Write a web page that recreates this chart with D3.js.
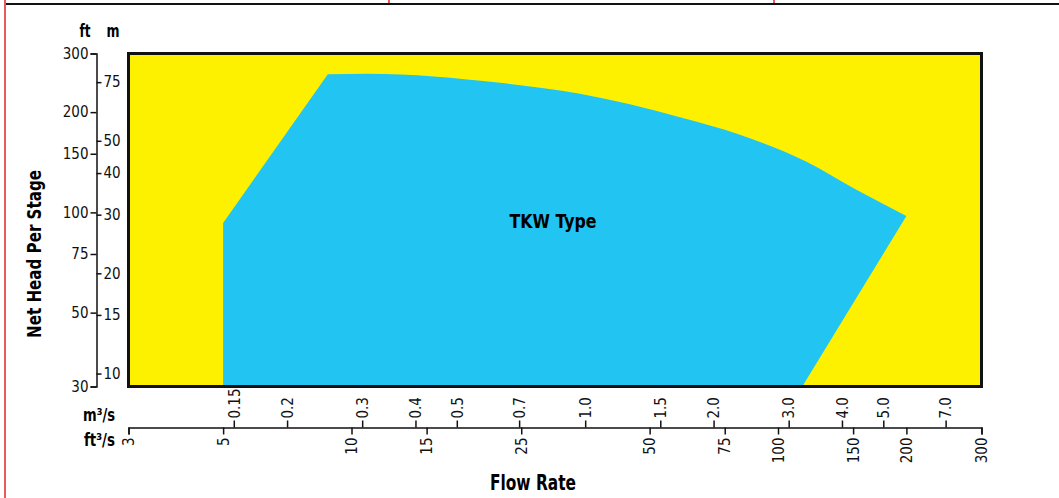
<!DOCTYPE html>
<html>
<head>
<meta charset="utf-8">
<script src="https://cdn.jsdelivr.net/npm/d3@7"></script>
<style>
  body { margin: 0; background: #fff; }
  svg text { font-family: "Liberation Sans Narrow", "DejaVu Sans Condensed", "Arial Narrow", sans-serif; }
</style>
</head>
<body>
<svg id="mainsvg" width="1059" height="498"></svg>
<script>
// tick labels
const headFtTicks = [30, 50, 75, 100, 150, 200, 300];
const headMTicks = [10, 15, 20, 30, 40, 50, 75];
const flowFtTicks = [3, 5, 10, 15, 25, 50, 75, 100, 150, 200, 300];
const flowM3Ticks = [0.15, 0.2, 0.3, 0.4, 0.5, 0.7, 1.0, 1.5, 2.0, 3.0, 4.0, 5.0, 7.0];

// TKW envelope: curved top edge (ft3/s, ft)
const topFlow = [8.8, 10.9, 22.3, 34.3, 58.9, 81.4, 116.6, 152.7, 200];
const topHead = [260, 261, 245, 227, 193, 171, 142, 117, 97.5];
// straight edges closing the envelope, from the right tip back round to the top corner
const edgeFlow = [114, 5, 5];
const edgeHead = [30, 30, 93];

const FT_PER_M = 3.281;
const FT3_PER_M3 = 35.31;

const svg = d3.select('#mainsvg');

const xScale = d3.scaleLog().domain([3, 300]).range([128.5, 981.5]);
const yScale = d3.scaleLog().domain([30, 300]).range([386.5, 53.5]);
const mScale = d3.scaleLog().domain([30 / FT_PER_M, 300 / FT_PER_M]).range(yScale.range());
const m3Scale = d3.scaleLog().domain([3 / FT3_PER_M3, 300 / FT3_PER_M3]).range(xScale.range());

// page frame bits
svg.append('rect').attr('x', 4).attr('y', 0).attr('width', 2).attr('height', 498).attr('fill', '#e65b5b');
svg.append('rect').attr('x', 6).attr('y', 3).attr('width', 1053).attr('height', 2).attr('fill', '#111');
[388, 773].forEach(x => {
  svg.append('rect').attr('x', x).attr('y', 0).attr('width', 2).attr('height', 3).attr('fill', '#e65b5b');
});

// plot background
svg.append('rect')
  .attr('x', xScale(3)).attr('y', yScale(300))
  .attr('width', xScale(300) - xScale(3))
  .attr('height', yScale(30) - yScale(300))
  .attr('fill', '#fdf100');

// envelope
const topPts = topFlow.map((f, i) => [xScale(f), yScale(topHead[i])]);
const curve = d3.line().curve(d3.curveMonotoneX)(topPts);
const tail = edgeFlow.map((f, i) => `L${xScale(f)},${yScale(edgeHead[i])}`).join('');
svg.append('path')
  .attr('d', curve + tail + 'Z')
  .attr('fill', '#22c4f2');

// plot border
svg.append('rect')
  .attr('x', xScale(3)).attr('y', yScale(300))
  .attr('width', xScale(300) - xScale(3))
  .attr('height', yScale(30) - yScale(300))
  .attr('fill', 'none')
  .attr('stroke', '#111')
  .attr('stroke-width', 3);

// bold titles are squeezed to the width of the condensed face in the original
function title(txt, x, y, size, len, anchor) {
  return svg.append('text').text(txt)
    .attr('x', x).attr('y', y)
    .attr('text-anchor', anchor || 'middle')
    .attr('font-size', size).attr('font-weight', 'bold')
    .attr('textLength', len).attr('lengthAdjust', 'spacingAndGlyphs');
}

title('TKW Type', 553, 228, 19, 87);

// y axes (ft left, m right of same line)
const axisX = 96.5;
svg.append('g').attr('transform', `translate(${axisX},0)`)
  .call(d3.axisLeft(yScale).tickValues(headFtTicks).tickFormat(d3.format('d')).tickSize(6).tickPadding(2));
const mAxis = svg.append('g').attr('transform', `translate(${axisX},0)`)
  .call(d3.axisRight(mScale).tickValues(headMTicks).tickFormat(d3.format('d')).tickSize(5).tickPadding(2));
mAxis.select('.domain').remove();

// x axes (ft3/s below, m3/s above the same line)
const axisY = 427.5;
const ftFlowAxis = svg.append('g').attr('transform', `translate(0,${axisY})`)
  .call(d3.axisBottom(xScale).tickValues(flowFtTicks).tickFormat(d3.format('d')).tickSize(7));
ftFlowAxis.selectAll('.tick text')
  .attr('transform', 'rotate(-90)')
  .attr('text-anchor', 'end')
  .attr('x', -10).attr('y', 0).attr('dy', '0.35em');

const m3Axis = svg.append('g').attr('transform', `translate(0,${axisY})`)
  .call(d3.axisTop(m3Scale).tickValues(flowM3Ticks)
    .tickFormat(d => d < 1 ? String(d) : d.toFixed(1)).tickSize(7));
m3Axis.select('.domain').remove();
m3Axis.selectAll('.tick text')
  .attr('transform', 'rotate(-90)')
  .attr('text-anchor', 'start')
  .attr('x', 9).attr('y', 0).attr('dy', '0.35em');

svg.selectAll('.tick text').attr('font-size', 15).attr('fill', '#111');
svg.selectAll('.tick line, .domain').attr('stroke', '#111').attr('stroke-width', 1.5);

// axis titles
title('ft', 85, 37, 17, 11);
title('m', 113, 37, 17, 13);
title('m³/s', 115, 421, 17, 32, 'end');
title('ft³/s', 115, 446, 17, 31, 'end');
title('Flow Rate', 533, 490, 21, 86);
title('Net Head Per Stage', 0, 0, 19, 168)
  .attr('transform', 'translate(41,254) rotate(-90)');
</script>
</body>
</html>
